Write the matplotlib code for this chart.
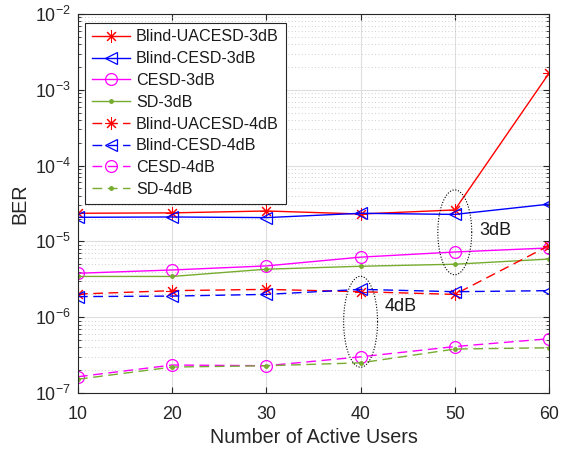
import numpy as np
import matplotlib
matplotlib.use('Agg')
import matplotlib.pyplot as plt
from matplotlib.ticker import LogLocator, NullFormatter

plt.rcParams['font.family'] = ['Liberation Sans', 'DejaVu Sans']
plt.rcParams['mathtext.fontset'] = 'custom'
plt.rcParams['mathtext.rm'] = 'Liberation Sans'
plt.rcParams['mathtext.it'] = 'Liberation Sans:italic'

users = [10, 20, 30, 40, 50, 60]

blind_uacesd_3db = [2.35e-5, 2.38e-5, 2.52e-5, 2.3e-5, 2.6e-5, 1.65e-3]
blind_cesd_3db = [2.08e-5, 2.1e-5, 2.06e-5, 2.35e-5, 2.27e-5, 3.1e-5]
cesd_3db = [3.8e-6, 4.2e-6, 4.75e-6, 6.2e-6, 7.25e-6, 8.2e-6]
sd_3db = [3.45e-6, 3.45e-6, 4.3e-6, 4.7e-6, 5.0e-6, 5.85e-6]

blind_uacesd_4db = [2.02e-6, 2.24e-6, 2.33e-6, 2.17e-6, 2.0e-6, 8.8e-6]
blind_cesd_4db = [1.87e-6, 1.9e-6, 2.0e-6, 2.33e-6, 2.17e-6, 2.24e-6]
cesd_4db = [1.64e-7, 2.34e-7, 2.29e-7, 3.0e-7, 4.1e-7, 5.2e-7]
sd_4db = [1.52e-7, 2.2e-7, 2.29e-7, 2.5e-7, 3.8e-7, 3.95e-7]

red = (1, 0, 0)
blue = (0, 0, 1)
mag = (1, 0, 1)
green = (0.466, 0.674, 0.188)
dash = (0, (7, 4))
star = (8, 2, 0)  # asterisk with 8 arms

fig = plt.figure(figsize=(5.68, 4.49), dpi=100)
ax = fig.add_axes([0.1373, 0.1247, 0.8292, 0.8441])

lw = 1.0
ax.semilogy(users, blind_uacesd_3db, '-', color=red, marker=star, ms=9, mew=0.75, lw=lw, label='Blind-UACESD-3dB')
ax.semilogy(users, blind_cesd_3db, '-', color=blue, marker='<', ms=9, mfc='none', mew=0.9, lw=lw, label='Blind-CESD-3dB')
ax.semilogy(users, cesd_3db, '-', color=mag, marker='o', ms=8.5, mfc='none', mew=0.9, lw=lw, label='CESD-3dB')
ax.semilogy(users, sd_3db, '-', color=green, marker='.', ms=5, lw=lw, label='SD-3dB')
ax.semilogy(users, blind_uacesd_4db, color=red, ls=dash, marker=star, ms=9, mew=0.75, lw=lw, label='Blind-UACESD-4dB')
ax.semilogy(users, blind_cesd_4db, color=blue, ls=dash, marker='<', ms=9, mfc='none', mew=0.9, lw=lw, label='Blind-CESD-4dB')
ax.semilogy(users, cesd_4db, color=mag, ls=dash, marker='o', ms=8.5, mfc='none', mew=0.9, lw=lw, label='CESD-4dB')
ax.semilogy(users, sd_4db, color=green, ls=dash, marker='.', ms=5, lw=lw, label='SD-4dB')

# dotted ellipses grouping the curves at each SNR
t = np.linspace(0, 2 * np.pi, 200)
for cx, cy, hw, hh in [(50, -4.88, 1.8, 0.56), (40, -6.06, 1.8, 0.60)]:
    ax.plot(cx + hw * np.cos(t), 10 ** (cy + hh * np.sin(t)), color='k', ls=(0, (1, 1.5)), lw=0.8)

ax.text(52.6, 1.41e-5, '3dB', fontsize=13, va='center', ha='left', color='0.1')
ax.text(42.6, 1.38e-6, '4dB', fontsize=13, va='center', ha='left', color='0.1')

ax.set_xlim(10, 60)
ax.set_ylim(1e-7, 1e-2)
ax.set_xticks(users)
ax.yaxis.set_major_locator(LogLocator(base=10, numticks=10))
ax.yaxis.set_minor_locator(LogLocator(base=10, subs=np.arange(2, 10), numticks=20))
ax.yaxis.set_minor_formatter(NullFormatter())

ax.grid(True, which='major', color='0.87', lw=0.8, ls='-')
ax.grid(True, which='minor', axis='y', color='0.75', lw=0.6, ls=(0, (1, 3)))
ax.set_axisbelow(True)

ax.tick_params(which='both', direction='in', top=True, right=True, colors='0.15', labelsize=12.9)
ax.tick_params(which='major', length=4)
ax.tick_params(which='minor', length=2)
ax.tick_params(axis='x', pad=9)
ax.tick_params(axis='y', pad=5)
for s in ax.spines.values():
    s.set_color('0.15')
    s.set_linewidth(0.8)

ax.set_xlabel('Number of Active Users', fontsize=14.2, color='0.15', labelpad=4)
ax.set_ylabel('BER', fontsize=14.2, color='0.15')

leg = ax.legend(loc='upper left', bbox_to_anchor=(0.015, 0.977), borderaxespad=0,
                fontsize=11.6, fancybox=False, framealpha=1, edgecolor='0.15',
                handlelength=2.4, handletextpad=0.35, labelspacing=0.42, borderpad=0.42)
leg.get_frame().set_linewidth(0.8)
for txt in leg.get_texts():
    txt.set_color('0.1')

fig.savefig('out.png', dpi=100)
